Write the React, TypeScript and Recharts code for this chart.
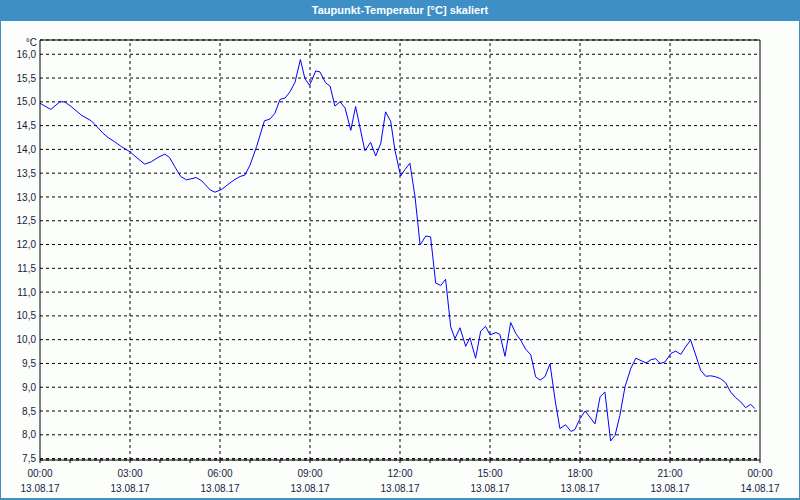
import { LineChart, Line, XAxis, YAxis, CartesianGrid, ReferenceLine } from 'recharts';

// hours since 13.08.17 00:00 and dew point in °C
const hours = [
  0, 0.36, 0.66, 0.82, 1.04, 1.38, 1.71, 1.88, 2.1, 2.27, 2.49, 2.71, 3.0, 3.16, 3.49, 3.71, 3.93, 4.16,
  4.32, 4.49, 4.69, 4.88, 5.1, 5.2, 5.39, 5.67, 5.83, 6.06, 6.28, 6.5, 6.67, 6.83, 7.0, 7.22, 7.48, 7.67,
  7.83, 8.0, 8.17, 8.33, 8.5, 8.68, 8.83, 8.98, 9.06, 9.19, 9.33, 9.52, 9.67, 9.83, 10.0, 10.17, 10.36,
  10.52, 10.67, 10.83, 11.02, 11.19, 11.36, 11.52, 11.69, 11.83, 12.02, 12.17, 12.33, 12.5, 12.67, 12.86,
  13.02, 13.19, 13.36, 13.52, 13.69, 13.83, 14.0, 14.19, 14.33, 14.52, 14.69, 14.85, 15.0, 15.2, 15.33,
  15.5, 15.69, 15.86, 16.03, 16.19, 16.36, 16.52, 16.67, 16.83, 17.0, 17.17, 17.33, 17.52, 17.7, 17.83,
  18.0, 18.17, 18.33, 18.5, 18.67, 18.83, 19.02, 19.17, 19.33, 19.5, 19.69, 19.86, 20.0, 20.2, 20.37,
  20.52, 20.67, 20.83, 21.03, 21.19, 21.36, 21.52, 21.69, 21.86, 22.02, 22.19, 22.36, 22.52, 22.69,
  22.86, 23.02, 23.19, 23.36, 23.52, 23.69, 23.83,
];
const dewPoint = [
  14.97, 14.84, 15.0, 15.0, 14.9, 14.72, 14.6, 14.49, 14.34, 14.25, 14.16, 14.06, 13.95, 13.86, 13.69, 13.74, 13.83, 13.9,
  13.83, 13.64, 13.43, 13.36, 13.39, 13.41, 13.34, 13.15, 13.1, 13.16, 13.27, 13.37, 13.43, 13.46, 13.67, 14.06, 14.6, 14.64,
  14.76, 15.05, 15.08, 15.21, 15.41, 15.89, 15.49, 15.35, 15.45, 15.65, 15.63, 15.4, 15.33, 14.91, 15.0, 14.87, 14.4,
  14.9, 14.45, 13.97, 14.15, 13.86, 14.13, 14.79, 14.59, 13.99, 13.44, 13.58, 13.71, 13.01, 11.99, 12.18,
  12.16, 11.19, 11.14, 11.27, 10.27, 10.02, 10.25, 9.86, 10.04, 9.61, 10.18, 10.28, 10.1, 10.15, 10.11,
  9.65, 10.36, 10.13, 9.98, 9.8, 9.68, 9.22, 9.15, 9.22, 9.49, 8.73, 8.13, 8.21, 8.07, 8.11,
  8.34, 8.5, 8.37, 8.23, 8.8, 8.9, 7.87, 7.99, 8.41, 9.01, 9.39, 9.61, 9.57, 9.51, 9.58,
  9.6, 9.5, 9.53, 9.71, 9.76, 9.69, 9.85, 9.99, 9.67, 9.36, 9.23, 9.24, 9.22, 9.18,
  9.09, 8.9, 8.78, 8.69, 8.57, 8.64, 8.55,
];

const yTicks = [7.5, 8, 8.5, 9, 9.5, 10, 10.5, 11, 11.5, 12, 12.5, 13, 13.5, 14, 14.5, 15, 15.5, 16];
const hourTicks = [0, 1, 2, 3, 4, 5, 6, 7, 8, 9, 10, 11, 12, 13, 14, 15, 16, 17, 18, 19, 20, 21, 22, 23, 24];
const majorHours = [0, 3, 6, 9, 12, 15, 18, 21, 24];
const timeLabels = ['00:00', '03:00', '06:00', '09:00', '12:00', '15:00', '18:00', '21:00', '00:00'];
const dateLabels = ['13.08.17', '13.08.17', '13.08.17', '13.08.17', '13.08.17', '13.08.17', '13.08.17', '13.08.17', '14.08.17'];
const gridHours = [3, 6, 9, 12, 15, 18, 21];

const BLUE = '#3d8fc6';
const TEXT = '#1a1a40';
const FONT = '"Liberation Sans", Arial, sans-serif';

const data = hours.map((h, i) => ({ h, v: dewPoint[i] }));

const XTick = ({ x, y, payload }: any) => {
  const i = majorHours.indexOf(payload.value);
  if (i < 0) return <g />;
  return (
    <g>
      <text x={x} y={y + 14} textAnchor="middle" fontSize={10} fill={TEXT} fontFamily={FONT}>
        {timeLabels[i]}
      </text>
      <text x={x} y={y + 29} textAnchor="middle" fontSize={10} fill={TEXT} fontFamily={FONT}>
        {dateLabels[i]}
      </text>
    </g>
  );
};

export default function App() {
  return (
    <div style={{ position: 'relative', width: 800, height: 500, background: '#fbfefb', fontFamily: FONT }}>
      <style>{'body{margin:0}'}</style>
      <div
        style={{
          position: 'absolute', left: 0, top: 0, width: 800, height: 21, background: BLUE,
          color: '#fff', fontSize: 11, fontWeight: 'bold', lineHeight: '20px', textAlign: 'center',
        }}
      >
        Taupunkt-Temperatur [°C] skaliert
      </div>
      <span style={{ position: 'absolute', right: 763, top: 37, fontSize: 10, color: TEXT }}>°C</span>
      <div style={{ position: 'absolute', left: 0, top: 0 }}>
        <LineChart width={800} height={500} data={data} margin={{ top: 40, right: 40, bottom: 0, left: 0 }}>
          <CartesianGrid vertical={false} stroke="#000" strokeDasharray="3 3" fill="none" />
          <XAxis
            dataKey="h"
            type="number"
            domain={[0, 24]}
            ticks={hourTicks}
            interval={0}
            height={40}
            tick={<XTick />}
            tickSize={3}
            tickMargin={0}
            tickLine={{ stroke: '#000' }}
            axisLine={{ stroke: '#000' }}
          />
          <YAxis
            type="number"
            domain={[7.47, 16.3]}
            allowDataOverflow
            ticks={yTicks}
            interval={0}
            width={40}
            tickSize={0}
            tickMargin={4}
            tickLine={false}
            axisLine={{ stroke: '#000' }}
            tickFormatter={(v: number) => v.toFixed(1).replace('.', ',')}
            tick={{ fontSize: 10, fill: TEXT, fontFamily: FONT }}
          />
          {gridHours.map(g => (
            <ReferenceLine key={g} x={g} stroke="#000" strokeDasharray="3 3" />
          ))}
          <ReferenceLine y={16.3} stroke="#000" />
          <ReferenceLine x={24} stroke="#000" />
          <Line
            type="linear"
            dataKey="v"
            stroke="#0000ff"
            strokeWidth={1}
            dot={false}
            isAnimationActive={false}
          />
        </LineChart>
      </div>
      <div
        style={{
          position: 'absolute', left: 0, top: 0, width: 800, height: 500, boxSizing: 'border-box',
          borderLeft: `1px solid ${BLUE}`, borderRight: `1px solid ${BLUE}`, borderBottom: `2px solid ${BLUE}`,
          pointerEvents: 'none',
        }}
      />
    </div>
  );
}
